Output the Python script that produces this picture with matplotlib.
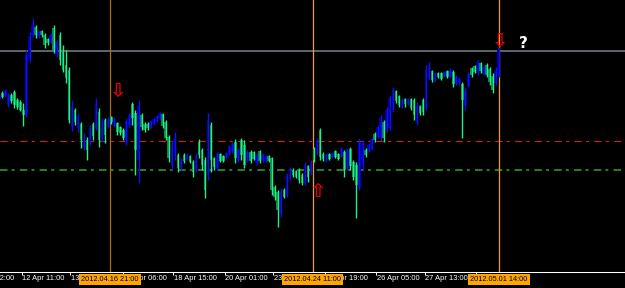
import matplotlib
matplotlib.use("Agg")
import matplotlib.pyplot as plt
import matplotlib.transforms as mtransforms
import numpy as np

# H2 bars, prices given as pips above 1.3000
opens = [230, 237, 234, 225, 235, 238, 230, 228, 220, 215, 270, 295, 303, 294, 299, 295, 291, 288, 302, 275,
         295, 280, 265, 260, 202, 220, 202, 206, 182, 190, 187, 206, 202, 218, 190, 210, 204, 213, 204, 207,
         203, 200, 187, 205, 226, 217, 170, 215, 206, 206, 203, 206, 209, 211, 216, 208, 193, 164, 174, 175,
         162, 175, 171, 174, 168, 160, 188, 180, 170, 155, 205, 172, 162, 176, 174, 173, 176, 179, 188, 170,
         190, 185, 169, 178, 178, 167, 179, 170, 169, 174, 172, 143, 138, 116, 140, 135, 152, 160, 159, 160,
         155, 147, 164, 157, 181, 177, 200, 176, 169, 176, 173, 179, 176, 174, 178, 162, 181, 168, 165, 142,
         165, 180, 179, 181, 196, 193, 192, 208, 200, 202, 220, 239, 234, 223, 231, 226, 231, 230, 207, 224,
         230, 222, 252, 259, 249, 257, 257, 254, 259, 253, 258, 246, 247, 246, 225, 244, 262, 264, 257, 267,
         256, 265, 261, 254, 247, 255]
highs = [237, 239, 241, 237, 237, 240, 232, 230, 227, 280, 298, 312, 305, 300, 300, 297, 292, 297, 305, 290,
         298, 285, 280, 263, 230, 222, 217, 208, 197, 193, 205, 208, 232, 222, 212, 212, 213, 214, 213, 208,
         204, 202, 212, 217, 228, 220, 230, 217, 208, 208, 210, 212, 215, 218, 217, 210, 195, 190, 198, 177,
         172, 177, 177, 175, 170, 177, 191, 182, 173, 217, 208, 173, 178, 177, 175, 178, 185, 188, 191, 182,
         192, 190, 180, 180, 179, 177, 180, 177, 175, 175, 173, 145, 140, 142, 142, 157, 163, 162, 160, 162,
         157, 168, 165, 170, 183, 192, 202, 178, 177, 177, 178, 180, 177, 183, 180, 182, 183, 170, 168, 192,
         190, 182, 187, 193, 198, 205, 215, 210, 223, 235, 243, 240, 235, 232, 232, 232, 232, 232, 228, 225,
         232, 265, 268, 260, 258, 258, 258, 259, 260, 262, 260, 255, 253, 248, 243, 258, 263, 265, 270, 268,
         265, 267, 263, 257, 263, 283]
lows = [229, 232, 233, 223, 227, 222, 221, 219, 204, 213, 268, 293, 292, 292, 293, 282, 285, 287, 277, 273,
        265, 258, 247, 207, 199, 205, 198, 182, 180, 170, 185, 190, 200, 183, 188, 187, 202, 206, 203, 195,
        195, 190, 185, 203, 205, 155, 147, 200, 198, 200, 202, 205, 208, 210, 202, 190, 168, 160, 170, 158,
        160, 167, 170, 167, 153, 158, 172, 160, 132, 150, 158, 160, 160, 168, 168, 172, 175, 177, 167, 168,
        170, 162, 168, 167, 170, 165, 167, 168, 168, 168, 135, 130, 103, 113, 132, 133, 150, 153, 152, 147,
        145, 145, 148, 155, 168, 175, 170, 169, 168, 170, 172, 172, 170, 173, 153, 160, 160, 150, 112, 140,
        160, 173, 178, 180, 188, 192, 190, 188, 198, 200, 218, 227, 223, 222, 223, 225, 220, 210, 205, 215,
        215, 220, 250, 248, 248, 252, 250, 253, 252, 252, 243, 245, 245, 192, 220, 243, 253, 257, 255, 257,
        255, 253, 245, 237, 245, 253]
closes = [235, 233, 240, 235, 229, 225, 223, 220, 215, 275, 294, 305, 295, 298, 295, 285, 287, 295, 280, 288,
          270, 260, 252, 210, 224, 208, 214, 190, 193, 180, 202, 194, 227, 190, 208, 195, 211, 208, 211, 198,
          197, 192, 208, 215, 212, 180, 225, 203, 200, 202, 209, 211, 214, 217, 204, 192, 172, 185, 195, 162,
          170, 169, 175, 168, 158, 174, 175, 165, 140, 210, 170, 163, 176, 169, 169, 177, 183, 186, 172, 180,
          175, 165, 178, 169, 171, 175, 169, 175, 174, 169, 140, 133, 120, 138, 133, 154, 161, 155, 153, 150,
          147, 165, 153, 168, 170, 190, 173, 171, 175, 171, 177, 173, 171, 181, 160, 180, 164, 153, 145, 188,
          187, 175, 185, 191, 190, 203, 212, 192, 220, 232, 240, 229, 225, 230, 226, 231, 222, 215, 225, 217,
          218, 260, 264, 250, 256, 253, 251, 258, 253, 260, 246, 253, 251, 230, 240, 256, 255, 258, 268, 259,
          263, 255, 248, 240, 260, 280]

# reference levels (pips above 1.3000)
level_gray = 279
level_red = 189
level_green = 160

# time axis, in bar numbers
tick_pos = [-9, 7.5, 23.5, 41, 57.5, 74.5, 90.5, 107.5, 124.5, 140.5, 157.5]
tick_labels = ["11 Apr 02:00", "12 Apr 11:00", "13 Apr 19:00", "17 Apr 06:00", "18 Apr 15:00",
               "20 Apr 01:00", "23 Apr 09:00", "24 Apr 19:00", "26 Apr 05:00", "27 Apr 13:00"]
vline_pos = [36.5, 103.5, 165]
vline_labels = ["2012.04.16 21:00", "2012.04.24 11:00", "2012.05.01 14:00"]
vline_colors = ["#B06A1C", "#F0A020", "#F0A020"]

# signal arrows: bar, price (pips), direction
arrow_pos = [39, 105, 165]
arrow_price = [239, 139, 289]
arrow_dir = ["down", "up", "down"]
question_pos, question_price = 173, 287

BASE = 1.3
o = BASE + np.array(opens) / 1e4
h = BASE + np.array(highs) / 1e4
l = BASE + np.array(lows) / 1e4
c = BASE + np.array(closes) / 1e4
x = np.arange(len(o))

fig = plt.figure(figsize=(6.25, 2.88), dpi=100, facecolor="black")
ax = fig.add_axes([0, 16 / 288, 1, 272 / 288])
ax.set_facecolor("black")

# levels and vertical markers
ax.axhline(BASE + level_gray / 1e4, color="#78808A", lw=1.1, zorder=1)
ax.axhline(BASE + level_red / 1e4, color="#E01818", lw=0.75, linestyle=(0, (7, 4, 3, 5)), zorder=1)
ax.axhline(BASE + level_green / 1e4, color="#2A7A2A", lw=1.5, linestyle=(0, (3.6, 2, 1.4, 2.5)), zorder=1)
for vx, col in zip(vline_pos, vline_colors):
    ax.axvline(vx, color=col, lw=0.9, zorder=1)

# candles: blue = bull, green = bear
up = c >= o
wick_col = np.where(up, "#1010F0", "#20F08C")
body_col = np.where(up, "#0000A8", "#0A8A45")
ax.bar(x, np.abs(c - o), bottom=np.minimum(o, c), width=0.85, color=body_col, linewidth=0, zorder=2)
ax.vlines(x, l, h, colors=wick_col, linewidth=1.0, zorder=3)

for ap, pr, d in zip(arrow_pos, arrow_price, arrow_dir):
    glyph = "\u21e9" if d == "down" else "\u21e7"
    ax.text(ap, BASE + pr / 1e4, glyph, color="#E00000", fontsize=14, fontweight="bold",
            ha="center", va="center", family="DejaVu Sans", zorder=5)
ax.text(question_pos, BASE + question_price / 1e4, "?", color="white", fontsize=11,
        fontweight="bold", ha="center", va="center", zorder=5)

# axis styling
for s in ["top", "left", "right"]:
    ax.spines[s].set_visible(False)
ax.spines["bottom"].set_color("white")
ax.spines["bottom"].set_linewidth(0.75)
ax.set_yticks([])
ax.set_xticks(tick_pos)
ax.tick_params(axis="x", colors="white", length=2.2, width=0.72, direction="out", labelbottom=False)

ax.set_xlim(0.25, 206.7)
ax.set_ylim(BASE + 58 / 1e4, BASE + 330 / 1e4)

trans = mtransforms.blended_transform_factory(ax.transData, ax.transAxes)
lab_trans = mtransforms.offset_copy(trans, fig=fig, x=0.5, y=-3, units="dots")
for tp, tl in zip(tick_pos, tick_labels):
    ax.text(tp, 0, tl, transform=lab_trans, ha="left", va="top", color="white", fontsize=5.4,
            family="Liberation Sans", clip_on=False)

box_trans = mtransforms.offset_copy(trans, fig=fig, x=0, y=-7.5, units="dots")
for vx, vl in zip(vline_pos, vline_labels):
    ax.text(vx, 0, vl, transform=box_trans, ha="center", va="center", color="black", fontsize=5.3,
            family="Liberation Sans", clip_on=False, zorder=10,
            bbox=dict(boxstyle="square,pad=0.3", fc="#FFA500", ec="none"))

fig.savefig("out.png", dpi=100, facecolor="black")
